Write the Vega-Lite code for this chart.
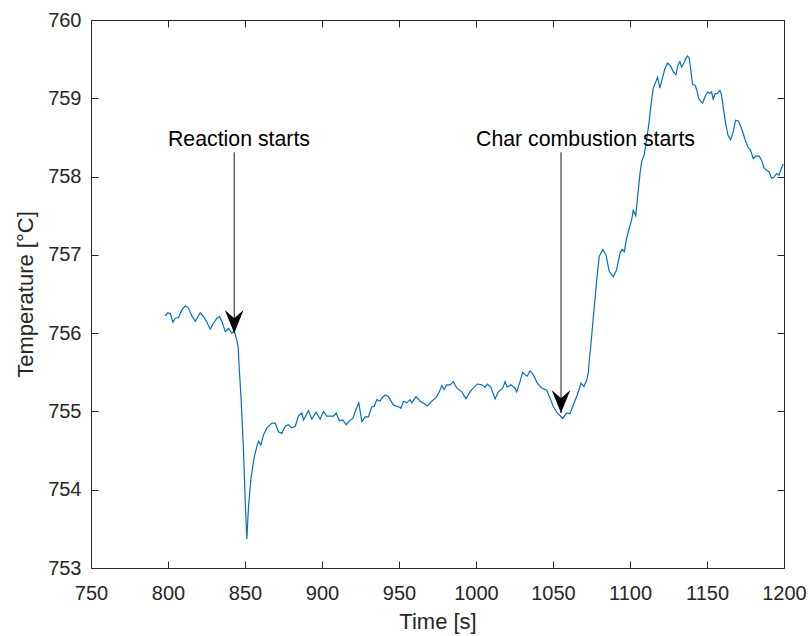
{
  "$schema": "https://vega.github.io/schema/vega-lite/v6.json",
  "width": 693,
  "height": 548,
  "autosize": {"type": "none"},
  "padding": {"left": 91, "top": 20, "right": 26, "bottom": 68},
  "background": "white",
  "config": {
    "view": {"stroke": null},
    "font": "Liberation Sans",
    "axis": {
      "domainColor": "#262626",
      "domainWidth": 1,
      "tickColor": "#262626",
      "tickWidth": 1,
      "tickSize": -7,
      "labelColor": "#262626",
      "labelFont": "Liberation Sans",
      "labelFontSize": 20,
      "titleColor": "#262626",
      "titleFont": "Liberation Sans",
      "titleFontSize": 22,
      "titleFontWeight": "normal",
      "grid": false
    }
  },
  "datasets": {
    "series": [
      {"time": 798.2, "temp": 756.22}, {"time": 799.7, "temp": 756.26}, {"time": 801.5, "temp": 756.25},
      {"time": 803.2, "temp": 756.14}, {"time": 804.7, "temp": 756.19}, {"time": 806.8, "temp": 756.20},
      {"time": 809.1, "temp": 756.30}, {"time": 811.2, "temp": 756.35}, {"time": 813.3, "temp": 756.32},
      {"time": 815.5, "temp": 756.22}, {"time": 817.7, "temp": 756.15}, {"time": 820.9, "temp": 756.26},
      {"time": 823.1, "temp": 756.21}, {"time": 825.3, "temp": 756.14}, {"time": 827.4, "temp": 756.05},
      {"time": 829.6, "temp": 756.13}, {"time": 831.8, "temp": 756.19}, {"time": 833.5, "temp": 756.21},
      {"time": 835.0, "temp": 756.15}, {"time": 837.2, "temp": 756.02}, {"time": 839.3, "temp": 756.06},
      {"time": 841.5, "temp": 756.00}, {"time": 843.0, "temp": 756.03}, {"time": 844.7, "temp": 755.91},
      {"time": 845.6, "temp": 755.81}, {"time": 846.2, "temp": 755.57}, {"time": 847.5, "temp": 755.15},
      {"time": 849.0, "temp": 754.51}, {"time": 850.1, "temp": 753.87}, {"time": 851.2, "temp": 753.37},
      {"time": 852.3, "temp": 753.79}, {"time": 853.8, "temp": 754.13}, {"time": 856.0, "temp": 754.42},
      {"time": 857.7, "temp": 754.55}, {"time": 858.8, "temp": 754.62}, {"time": 860.3, "temp": 754.57},
      {"time": 862.0, "temp": 754.70}, {"time": 864.2, "temp": 754.79}, {"time": 867.5, "temp": 754.85},
      {"time": 869.6, "temp": 754.85}, {"time": 871.7, "temp": 754.74}, {"time": 873.9, "temp": 754.72},
      {"time": 876.1, "temp": 754.81}, {"time": 878.2, "temp": 754.83}, {"time": 880.4, "temp": 754.79},
      {"time": 882.6, "temp": 754.81}, {"time": 884.7, "temp": 754.94}, {"time": 886.9, "temp": 754.98},
      {"time": 888.0, "temp": 754.89}, {"time": 891.2, "temp": 755.01}, {"time": 893.4, "temp": 754.90},
      {"time": 896.2, "temp": 754.99}, {"time": 898.8, "temp": 754.90}, {"time": 900.9, "temp": 755.00},
      {"time": 903.1, "temp": 754.94}, {"time": 905.3, "temp": 754.94}, {"time": 907.4, "temp": 754.94},
      {"time": 909.2, "temp": 754.98}, {"time": 911.3, "temp": 754.88}, {"time": 913.5, "temp": 754.89},
      {"time": 915.7, "temp": 754.83}, {"time": 917.8, "temp": 754.88}, {"time": 920.0, "temp": 754.91},
      {"time": 922.2, "temp": 755.03}, {"time": 923.9, "temp": 755.11}, {"time": 925.9, "temp": 754.87},
      {"time": 928.0, "temp": 754.93}, {"time": 930.1, "temp": 754.93}, {"time": 932.3, "temp": 755.06},
      {"time": 933.8, "temp": 755.06}, {"time": 935.6, "temp": 755.15}, {"time": 937.7, "temp": 755.13},
      {"time": 938.8, "temp": 755.17}, {"time": 941.0, "temp": 755.21}, {"time": 943.1, "temp": 755.19},
      {"time": 946.4, "temp": 755.08}, {"time": 949.6, "temp": 755.06}, {"time": 951.2, "temp": 755.04},
      {"time": 952.9, "temp": 755.13}, {"time": 955.1, "temp": 755.11}, {"time": 957.2, "temp": 755.15},
      {"time": 958.3, "temp": 755.11}, {"time": 961.1, "temp": 755.19}, {"time": 963.7, "temp": 755.13},
      {"time": 966.3, "temp": 755.10}, {"time": 968.4, "temp": 755.07}, {"time": 971.3, "temp": 755.13},
      {"time": 974.1, "temp": 755.18}, {"time": 976.2, "temp": 755.25}, {"time": 977.8, "temp": 755.33},
      {"time": 979.3, "temp": 755.28}, {"time": 981.0, "temp": 755.34}, {"time": 983.2, "temp": 755.34},
      {"time": 985.3, "temp": 755.38}, {"time": 987.5, "temp": 755.30}, {"time": 990.8, "temp": 755.25},
      {"time": 993.5, "temp": 755.16}, {"time": 996.1, "temp": 755.25}, {"time": 998.3, "temp": 755.30},
      {"time": 1000.9, "temp": 755.35}, {"time": 1003.7, "temp": 755.34}, {"time": 1005.9, "temp": 755.31},
      {"time": 1007.4, "temp": 755.35}, {"time": 1009.6, "temp": 755.31}, {"time": 1012.4, "temp": 755.16},
      {"time": 1014.5, "temp": 755.25}, {"time": 1017.4, "temp": 755.30}, {"time": 1018.9, "temp": 755.38},
      {"time": 1020.3, "temp": 755.31}, {"time": 1022.6, "temp": 755.34}, {"time": 1025.3, "temp": 755.30},
      {"time": 1026.4, "temp": 755.25}, {"time": 1028.6, "temp": 755.38}, {"time": 1030.3, "temp": 755.50},
      {"time": 1031.8, "temp": 755.47}, {"time": 1033.3, "temp": 755.45}, {"time": 1035.1, "temp": 755.52},
      {"time": 1037.2, "temp": 755.47}, {"time": 1039.8, "temp": 755.36}, {"time": 1042.7, "temp": 755.30},
      {"time": 1045.9, "temp": 755.27}, {"time": 1048.1, "temp": 755.17}, {"time": 1050.2, "temp": 755.06},
      {"time": 1052.8, "temp": 754.98}, {"time": 1056.3, "temp": 754.91}, {"time": 1058.9, "temp": 754.98},
      {"time": 1061.0, "temp": 754.97}, {"time": 1063.7, "temp": 755.11}, {"time": 1065.4, "temp": 755.19},
      {"time": 1068.2, "temp": 755.36}, {"time": 1070.1, "temp": 755.32}, {"time": 1071.9, "temp": 755.40},
      {"time": 1072.9, "temp": 755.49}, {"time": 1073.6, "temp": 755.66}, {"time": 1074.5, "temp": 755.83},
      {"time": 1076.2, "temp": 756.21}, {"time": 1078.4, "temp": 756.68}, {"time": 1080.0, "temp": 756.98},
      {"time": 1082.3, "temp": 757.07}, {"time": 1084.4, "temp": 757.00}, {"time": 1086.5, "temp": 756.79},
      {"time": 1089.1, "temp": 756.72}, {"time": 1091.3, "temp": 756.81}, {"time": 1093.5, "temp": 757.02},
      {"time": 1094.8, "temp": 757.07}, {"time": 1096.3, "temp": 757.04}, {"time": 1097.8, "temp": 757.21},
      {"time": 1099.5, "temp": 757.34}, {"time": 1101.1, "temp": 757.45}, {"time": 1102.1, "temp": 757.57},
      {"time": 1103.7, "temp": 757.50}, {"time": 1105.4, "temp": 757.83}, {"time": 1106.5, "temp": 758.04},
      {"time": 1107.6, "temp": 758.19}, {"time": 1109.2, "temp": 758.28}, {"time": 1110.8, "temp": 758.47},
      {"time": 1112.3, "temp": 758.68}, {"time": 1113.6, "temp": 758.91}, {"time": 1115.1, "temp": 759.13},
      {"time": 1116.8, "temp": 759.21}, {"time": 1117.9, "temp": 759.27}, {"time": 1119.4, "temp": 759.13},
      {"time": 1121.2, "temp": 759.27}, {"time": 1122.7, "temp": 759.38}, {"time": 1124.4, "temp": 759.45},
      {"time": 1126.4, "temp": 759.41}, {"time": 1128.1, "temp": 759.34}, {"time": 1129.8, "temp": 759.30},
      {"time": 1131.3, "temp": 759.43}, {"time": 1132.4, "temp": 759.47}, {"time": 1133.5, "temp": 759.40},
      {"time": 1135.0, "temp": 759.45}, {"time": 1136.3, "temp": 759.51}, {"time": 1137.4, "temp": 759.54},
      {"time": 1138.5, "temp": 759.51}, {"time": 1139.6, "temp": 759.34}, {"time": 1140.7, "temp": 759.17},
      {"time": 1142.2, "temp": 759.17}, {"time": 1143.3, "temp": 759.11}, {"time": 1144.6, "temp": 759.00},
      {"time": 1145.9, "temp": 758.96}, {"time": 1147.2, "temp": 758.94}, {"time": 1148.7, "temp": 759.02},
      {"time": 1150.4, "temp": 759.08}, {"time": 1151.9, "temp": 759.06}, {"time": 1153.0, "temp": 759.08},
      {"time": 1154.0, "temp": 758.99}, {"time": 1155.3, "temp": 759.06}, {"time": 1156.6, "temp": 759.06},
      {"time": 1158.4, "temp": 759.10}, {"time": 1159.5, "temp": 759.04}, {"time": 1160.5, "temp": 758.89},
      {"time": 1162.1, "temp": 758.68}, {"time": 1163.6, "temp": 758.53}, {"time": 1165.3, "temp": 758.47},
      {"time": 1167.0, "temp": 758.57}, {"time": 1168.6, "temp": 758.72}, {"time": 1170.3, "temp": 758.71},
      {"time": 1172.0, "temp": 758.64}, {"time": 1173.5, "temp": 758.55}, {"time": 1175.1, "temp": 758.45},
      {"time": 1176.7, "temp": 758.37}, {"time": 1178.3, "temp": 758.34}, {"time": 1180.0, "temp": 758.23},
      {"time": 1181.7, "temp": 758.26}, {"time": 1183.9, "temp": 758.26}, {"time": 1185.4, "temp": 758.21},
      {"time": 1187.1, "temp": 758.11}, {"time": 1188.7, "temp": 758.08}, {"time": 1190.4, "temp": 758.06},
      {"time": 1191.9, "temp": 757.98}, {"time": 1193.4, "temp": 757.99}, {"time": 1195.2, "temp": 758.04},
      {"time": 1196.8, "temp": 758.02}, {"time": 1198.4, "temp": 758.11}, {"time": 1199.5, "temp": 758.16}
    ],
    "notes": [
      {"label": "Reaction starts", "arrowTime": 843.0, "tailTemp": 758.31, "tipTemp": 756.0, "textTime": 846.1, "textTemp": 758.39},
      {"label": "Char combustion starts", "arrowTime": 1055.2, "tailTemp": 758.31, "tipTemp": 754.98, "textTime": 1071.1, "textTemp": 758.39}
    ]
  },
  "layer": [
    {
      "data": {"name": "series"},
      "mark": {"type": "line", "color": "#0072BD", "strokeWidth": 1.2, "interpolate": "linear"},
      "encoding": {
        "x": {
          "field": "time", "type": "quantitative",
          "scale": {"domain": [750, 1200], "nice": false, "zero": false},
          "axis": {"orient": "bottom", "title": "Time [s]", "format": "d", "values": [750, 800, 850, 900, 950, 1000, 1050, 1100, 1150, 1200], "labelPadding": 22, "titlePadding": 8, "labelFlush": false}
        },
        "y": {
          "field": "temp", "type": "quantitative",
          "scale": {"domain": [753, 760], "nice": false, "zero": false},
          "axis": {"orient": "left", "title": "Temperature [°C]", "format": "d", "values": [753, 754, 755, 756, 757, 758, 759, 760], "labelPadding": 17, "titlePadding": 10, "labelFlush": false}
        }
      }
    },
    {
      "data": {"name": "notes"},
      "mark": {"type": "rule", "color": "#000000", "strokeWidth": 0.9},
      "encoding": {
        "x": {
          "field": "arrowTime", "type": "quantitative",
          "axis": {"orient": "top", "title": null, "labels": false, "values": [750, 800, 850, 900, 950, 1000, 1050, 1100, 1150, 1200]}
        },
        "y": {
          "field": "tailTemp", "type": "quantitative",
          "axis": {"orient": "right", "title": null, "labels": false, "values": [753, 754, 755, 756, 757, 758, 759, 760]}
        },
        "y2": {"field": "tipTemp"}
      }
    },
    {
      "data": {"name": "notes"},
      "mark": {
        "type": "point",
        "shape": "M0,0 L-0.85,-2.1 L0,-1.35 L0.85,-2.1 Z",
        "size": 484,
        "filled": true,
        "color": "#000000",
        "opacity": 1
      },
      "encoding": {
        "x": {"field": "arrowTime", "type": "quantitative", "axis": null},
        "y": {"field": "tipTemp", "type": "quantitative", "axis": null}
      }
    },
    {
      "data": {"name": "notes"},
      "mark": {"type": "text", "font": "Liberation Sans", "fontSize": 21.3, "color": "#000000", "align": "center", "baseline": "alphabetic"},
      "encoding": {
        "x": {"field": "textTime", "type": "quantitative", "axis": null},
        "y": {"field": "textTemp", "type": "quantitative", "axis": null},
        "text": {"field": "label"}
      }
    }
  ],
  "resolve": {"axis": {"x": "independent", "y": "independent"}}
}
